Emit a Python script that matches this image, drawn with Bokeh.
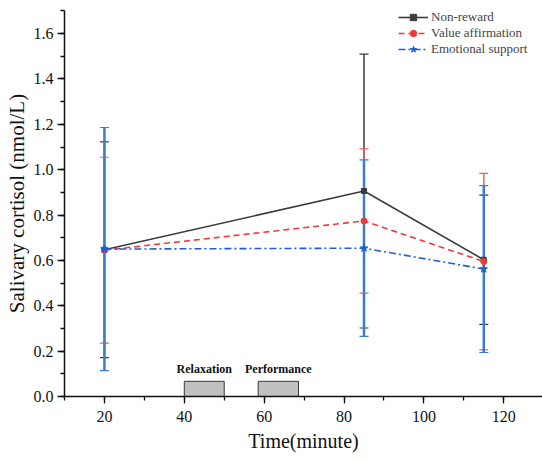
from bokeh.plotting import figure
from bokeh.models import (ColumnDataSource, Whisker, TeeHead, Legend, LegendItem,
                          SingleIntervalTicker, PrintfTickFormatter, Range1d)
from bokeh.core.properties import value
from bokeh.embed import file_html
from bokeh.resources import INLINE

# ---- data ----
time = [20, 85, 115]
series_names = ["Non-reward", "Value affirmation", "Emotional support"]
non_reward = [0.647, 0.906, 0.603]
non_reward_sd = [0.476, 0.604, 0.285]
value_aff = [0.645, 0.774, 0.595]
value_aff_sd = [0.410, 0.318, 0.389]
emotional = [0.650, 0.654, 0.562]
emotional_sd = [0.536, 0.389, 0.368]

phase_labels = ["Relaxation", "Performance"]
phase_start = [40, 58.5]
phase_end = [50, 68.6]
phase_height = [0.067, 0.067]

x_title = "Time(minute)"
y_title = "Salivary cortisol (nmol/L)"

FONT = "Liberation Serif"
QFONT = "'Liberation Serif', 'Times New Roman', serif"

p = figure(width=542, height=460, output_backend="svg", toolbar_location=None,
           x_range=Range1d(10, 129.7), y_range=Range1d(0, 1.702),
           min_border_left=64, min_border_right=0, min_border_top=10,
           min_border_bottom=64)
p.outline_line_color = None
p.xgrid.visible = False
p.ygrid.visible = False
p.background_fill_color = "white"
p.border_fill_color = "white"

# phase bars
p.quad(left=phase_start, right=phase_end, bottom=[0, 0], top=phase_height,
       fill_color="#c0c0c0", line_color="#3a3a3a", line_width=1)
label_x = [(a + b) / 2 for a, b in zip(phase_start, phase_end)]
label_y = [h + 0.053 for h in phase_height]
p.text(x=label_x, y=label_y, text=phase_labels, text_font=value(QFONT),
       text_font_style="bold", text_font_size="12px", text_align="center",
       text_baseline="middle", text_color="#111111")

styles = [
    dict(color="#3c3c3c", dash="solid", marker="square", size=5, ecolor="#3c3c3c", ew=1.5, data=non_reward, sd=non_reward_sd),
    dict(color="#f03a3a", dash="6 4", marker="circle", size=6, ecolor="#f06060", ew=1.5, data=value_aff, sd=value_aff_sd),
    dict(color="#1f5fd0", dash="7 3 2 3", marker="star", size=8, ecolor="#3a7bd5", ew=2.5, data=emotional, sd=emotional_sd),
]

items = []
for name, st in zip(series_names, styles):
    src = ColumnDataSource(dict(
        x=time, y=st["data"],
        upper=[v + s for v, s in zip(st["data"], st["sd"])],
        lower=[v - s for v, s in zip(st["data"], st["sd"])]))
    w = Whisker(source=src, base="x", upper="upper", lower="lower",
                line_color=st["ecolor"], line_width=st["ew"],
                upper_head=TeeHead(size=9, line_color=st["ecolor"], line_width=1.2),
                lower_head=TeeHead(size=9, line_color=st["ecolor"], line_width=1.2))
    p.add_layout(w)
    ln = p.line("x", "y", source=src, line_color=st["color"], line_width=1.6,
                line_dash=st["dash"])
    sc = p.scatter("x", "y", source=src, marker=st["marker"], size=st["size"],
                   fill_color=st["color"], line_color=st["color"])
    items.append(LegendItem(label=name, renderers=[ln, sc]))

legend = Legend(items=items, location=(334, 339), padding=0, margin=0,
                spacing=0, glyph_width=30, glyph_height=16, label_height=16,
                label_standoff=3, label_text_font=QFONT, label_text_font_size="13px",
                border_line_color=None, background_fill_alpha=0)
p.add_layout(legend)

# axes
p.xaxis.ticker = SingleIntervalTicker(interval=20, num_minor_ticks=2)
p.yaxis.ticker = SingleIntervalTicker(interval=0.2, num_minor_ticks=2)
p.yaxis.formatter = PrintfTickFormatter(format="%.1f")
for axes in (p.xaxis, p.yaxis):
    axes.axis_line_width = 1.5
    axes.axis_line_color = "#111111"
    axes.major_tick_line_color = "#111111"
    axes.minor_tick_line_color = "#111111"
    axes.major_tick_line_width = 1.3
    axes.minor_tick_line_width = 1.3
    axes.major_tick_out = 7
    axes.major_tick_in = 0
    axes.minor_tick_out = 4
    axes.minor_tick_in = 0
    axes.major_label_text_font = QFONT
    axes.major_label_text_font_size = "16px"
    axes.major_label_text_color = "#111111"
    axes.axis_label_text_font = FONT
    axes.axis_label_text_font_style = "normal"
    axes.axis_label_text_color = "#111111"
p.xaxis.major_label_standoff = 7
p.yaxis.major_label_standoff = 4

p.xaxis.axis_label = x_title
p.xaxis.axis_label_text_font_size = "20px"
p.xaxis.axis_label_standoff = 5
p.yaxis.axis_label = y_title
p.yaxis.axis_label_text_font_size = "21px"
p.yaxis.axis_label_standoff = 2

open("out.html", "w").write(file_html(p, INLINE))
